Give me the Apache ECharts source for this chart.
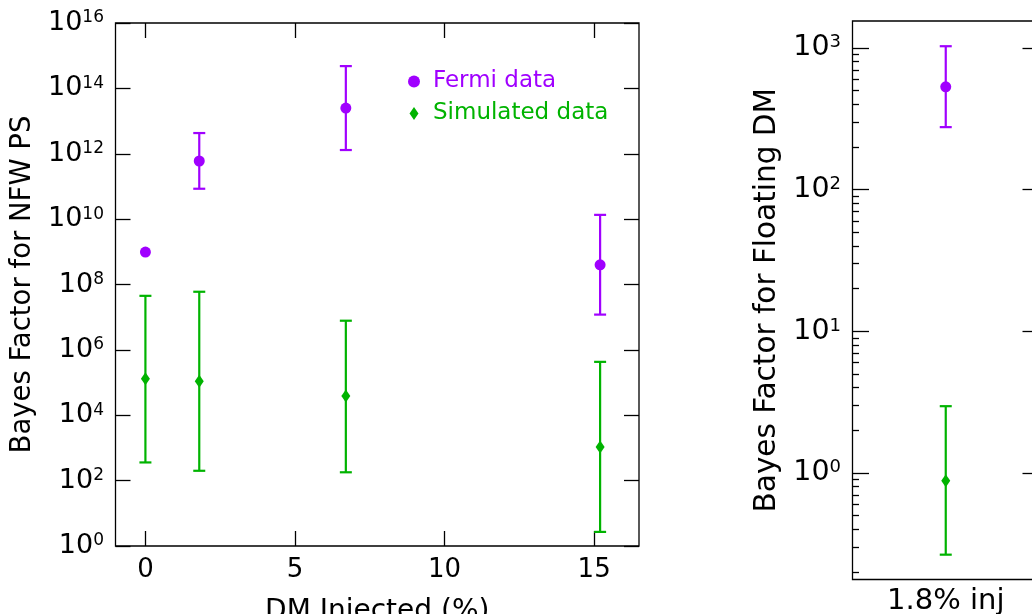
<!DOCTYPE html>
<html>
<head>
<meta charset="utf-8">
<script src="https://cdn.jsdelivr.net/npm/echarts@6/dist/echarts.min.js"></script>
<style>
  html, body { margin: 0; padding: 0; background: #fff; }
  #chart { width: 1032px; height: 614px; }
</style>
</head>
<body>
<div id="chart"></div>
<script>
// DM injection levels (%) used for the NFW PS comparison
const injected = [0, 1.8, 6.7, 15.2];

// Bayes factor for NFW PS: central values with lower / upper ends of the bars
const fermiBF   = [9.8e8, 6.0e11, 2.5e13, 4.0e8];
const fermiLow  = [null, 8.5e10, 1.3e12, 1.2e7];
const fermiHigh = [null, 4.3e12, 4.8e14, 1.35e10];

const simBF   = [1.3e5, 1.1e5, 3.9e4, 1.07e3];
const simLow  = [3.6e2, 2.0e2, 1.8e2, 2.7];
const simHigh = [4.5e7, 6.0e7, 7.8e6, 4.3e5];

// Bayes factor for floating DM at a single injection level
const floatCategories = ['1.8% inj'];
const floatFermiBF   = [531];
const floatFermiLow  = [276];
const floatFermiHigh = [1028];
const floatSimBF   = [0.88];
const floatSimLow  = [0.265];
const floatSimHigh = [2.96];

// tick positions (decade exponents for the log axes)
const xTickValues = [0, 5, 10, 15];
const rightDecades = [0, 1, 2, 3];

const PURPLE = '#a000ff';
const GREEN = '#00b300';
const FONT = 'DejaVu Sans';
const INK = '#000';

// right panel log range, as decade exponents
const R_MIN = -0.752, R_MAX = 3.19;

// minor ticks at 2..9 times each decade
const rightMinor = [];
for (let k = -1; k <= 3; k++) {
  for (let m = 2; m <= 9; m++) {
    const e = k + Math.log10(m);
    if (e > R_MIN && e < R_MAX) rightMinor.push(e);
  }
}

const powLabel = v => '{b|10}{s|' + Math.round(v) + '}';
const powRich = size => ({
  b: { fontSize: size, fontFamily: FONT, color: INK, lineHeight: size },
  s: { fontSize: Math.round(size * 0.64), fontFamily: FONT, color: INK, verticalAlign: 'top', lineHeight: 10 }
});

// vertical bar with end caps from the lower to the upper value
function errorBarItem(params, api) {
  const lo = api.value(2), hi = api.value(3);
  if (!(lo > 0) || !(hi > 0)) return null;
  const x = api.value(0);
  const pLo = api.coord([x, lo]);
  const pHi = api.coord([x, hi]);
  const half = 6;
  const style = { stroke: api.visual('color'), lineWidth: 2.2, fill: null };
  return {
    type: 'group',
    children: [
      { type: 'line', shape: { x1: pLo[0], y1: pLo[1], x2: pHi[0], y2: pHi[1] }, style },
      { type: 'line', shape: { x1: pLo[0] - half, y1: pLo[1], x2: pLo[0] + half, y2: pLo[1] }, style },
      { type: 'line', shape: { x1: pHi[0] - half, y1: pHi[1], x2: pHi[0] + half, y2: pHi[1] }, style }
    ]
  };
}

const zip = (xs, ys, los, his) =>
  xs.map((x, i) => [x, ys[i], los[i], his[i]]).filter(d => d[2] != null && d[3] != null);
const pts = (xs, ys) => xs.map((x, i) => [x, ys[i]]);

const tickLine = () => ({ color: INK, width: 1.3 });
const noLine = () => ({ show: false, onZero: false });
const hiddenAxisBits = () => ({
  axisLine: noLine(), axisTick: { show: false },
  axisLabel: { show: false }, splitLine: { show: false }
});

const option = {
  animation: false,
  backgroundColor: '#fff',
  grid: [
    { left: 115.5, top: 23, width: 523.5, height: 523, show: true,
      borderColor: INK, borderWidth: 1.3, backgroundColor: 'transparent',
      containLabel: false, outerBoundsMode: 'none' },
    { left: 852.5, top: 21, width: 186.5, height: 558.5, show: true,
      borderColor: INK, borderWidth: 1.3, backgroundColor: 'transparent',
      containLabel: false, outerBoundsMode: 'none' }
  ],
  legend: [
    { data: ['Fermi data'], left: 408, top: 70, padding: 0, orient: 'vertical',
      icon: 'circle', itemWidth: 12, itemHeight: 12,
      textStyle: { color: PURPLE, fontSize: 23, fontFamily: FONT, padding: [0, 0, 0, 8] } },
    { data: ['Simulated data'], left: 409.5, top: 102, padding: 0, orient: 'vertical',
      icon: 'diamond', itemWidth: 9, itemHeight: 13, symbolKeepAspect: false,
      textStyle: { color: GREEN, fontSize: 23, fontFamily: FONT, padding: [0, 0, 0, 9.5] } }
  ],
  xAxis: [
    { // bottom axis of the left panel
      gridIndex: 0, type: 'value', min: -1, max: 16.5, position: 'bottom',
      name: 'DM Injected (%)', nameLocation: 'middle', nameGap: 52,
      nameTextStyle: { fontSize: 28, fontFamily: FONT, color: INK },
      axisLine: noLine(),
      axisTick: { show: true, inside: true, length: 15, lineStyle: tickLine(), customValues: xTickValues },
      axisLabel: { show: true, margin: 11, fontSize: 26, fontFamily: FONT, color: INK, customValues: xTickValues },
      splitLine: { show: false }
    },
    { // top axis of the left panel, ticks only
      gridIndex: 0, type: 'value', min: -1, max: 16.5, position: 'top',
      axisLine: noLine(),
      axisTick: { show: true, inside: true, length: 15, lineStyle: tickLine(), customValues: xTickValues },
      axisLabel: { show: false }, splitLine: { show: false }
    },
    { // category axis of the right panel
      gridIndex: 1, type: 'category', data: floatCategories, position: 'bottom',
      axisLine: noLine(), axisTick: { show: false },
      axisLabel: { show: true, margin: 7, fontSize: 29, fontFamily: FONT, color: INK },
      splitLine: { show: false }
    }
  ],
  yAxis: [
    // 0: log scale carrying the left-panel data
    Object.assign({ gridIndex: 0, type: 'log', logBase: 10, min: 1, max: 1e16 }, hiddenAxisBits()),
    // 1: decade ticks and labels, left side
    { gridIndex: 0, type: 'value', min: 0, max: 16, interval: 2, position: 'left',
      name: 'Bayes Factor for NFW PS', nameLocation: 'middle', nameGap: 77,
      nameTextStyle: { fontSize: 27.5, fontFamily: FONT, color: INK },
      axisLine: noLine(),
      axisTick: { show: true, inside: true, length: 15, lineStyle: tickLine() },
      axisLabel: { show: true, margin: 11.5, formatter: powLabel, rich: powRich(27) },
      splitLine: { show: false } },
    // 2: decade ticks, right side
    { gridIndex: 0, type: 'value', min: 0, max: 16, interval: 2, position: 'right',
      axisLine: noLine(),
      axisTick: { show: true, inside: true, length: 15, lineStyle: tickLine() },
      axisLabel: { show: false }, splitLine: { show: false } },
    // 3: log scale carrying the right-panel data
    Object.assign({ gridIndex: 1, type: 'log', logBase: 10,
      min: Math.pow(10, R_MIN), max: Math.pow(10, R_MAX) }, hiddenAxisBits()),
    // 4: major decade ticks and labels, left side
    { gridIndex: 1, type: 'value', min: R_MIN, max: R_MAX, position: 'left',
      name: 'Bayes Factor for Floating DM', nameLocation: 'middle', nameGap: 70,
      nameTextStyle: { fontSize: 29.5, fontFamily: FONT, color: INK },
      axisLine: noLine(),
      axisTick: { show: true, inside: true, length: 16.5, lineStyle: tickLine(), customValues: rightDecades },
      axisLabel: { show: true, margin: 11.5, formatter: powLabel, rich: powRich(28.5), customValues: rightDecades },
      splitLine: { show: false } },
    // 5: minor ticks, left side
    { gridIndex: 1, type: 'value', min: R_MIN, max: R_MAX, position: 'left',
      axisLine: noLine(),
      axisTick: { show: true, inside: true, length: 6.5, lineStyle: tickLine(), customValues: rightMinor },
      axisLabel: { show: false }, splitLine: { show: false } },
    // 6: major ticks, right side
    { gridIndex: 1, type: 'value', min: R_MIN, max: R_MAX, position: 'right',
      axisLine: noLine(),
      axisTick: { show: true, inside: true, length: 16.5, lineStyle: tickLine(), customValues: rightDecades },
      axisLabel: { show: false }, splitLine: { show: false } },
    // 7: minor ticks, right side
    { gridIndex: 1, type: 'value', min: R_MIN, max: R_MAX, position: 'right',
      axisLine: noLine(),
      axisTick: { show: true, inside: true, length: 6.5, lineStyle: tickLine(), customValues: rightMinor },
      axisLabel: { show: false }, splitLine: { show: false } }
  ],
  series: [
    // left panel
    { name: 'Fermi data', type: 'custom', xAxisIndex: 0, yAxisIndex: 0, z: 2,
      itemStyle: { color: PURPLE }, renderItem: errorBarItem, encode: { x: 0, y: 1 },
      data: zip(injected, fermiBF, fermiLow, fermiHigh) },
    { name: 'Simulated data', type: 'custom', xAxisIndex: 0, yAxisIndex: 0, z: 2,
      itemStyle: { color: GREEN }, renderItem: errorBarItem, encode: { x: 0, y: 1 },
      data: zip(injected, simBF, simLow, simHigh) },
    { name: 'Fermi data', type: 'scatter', xAxisIndex: 0, yAxisIndex: 0, z: 3,
      symbol: 'circle', symbolSize: 11, itemStyle: { color: PURPLE, opacity: 1 },
      data: pts(injected, fermiBF) },
    { name: 'Simulated data', type: 'scatter', xAxisIndex: 0, yAxisIndex: 0, z: 3,
      symbol: 'diamond', symbolSize: [9, 13], itemStyle: { color: GREEN, opacity: 1 },
      data: pts(injected, simBF) },
    // right panel
    { name: 'Fermi data', type: 'custom', xAxisIndex: 2, yAxisIndex: 3, z: 2,
      itemStyle: { color: PURPLE }, renderItem: errorBarItem, encode: { x: 0, y: 1 },
      data: zip(floatCategories, floatFermiBF, floatFermiLow, floatFermiHigh) },
    { name: 'Simulated data', type: 'custom', xAxisIndex: 2, yAxisIndex: 3, z: 2,
      itemStyle: { color: GREEN }, renderItem: errorBarItem, encode: { x: 0, y: 1 },
      data: zip(floatCategories, floatSimBF, floatSimLow, floatSimHigh) },
    { name: 'Fermi data', type: 'scatter', xAxisIndex: 2, yAxisIndex: 3, z: 3,
      symbol: 'circle', symbolSize: 11, itemStyle: { color: PURPLE, opacity: 1 },
      data: pts(floatCategories, floatFermiBF) },
    { name: 'Simulated data', type: 'scatter', xAxisIndex: 2, yAxisIndex: 3, z: 3,
      symbol: 'diamond', symbolSize: [9, 13], itemStyle: { color: GREEN, opacity: 1 },
      data: pts(floatCategories, floatSimBF) }
  ]
};

const chart = echarts.init(document.getElementById('chart'), null, { renderer: 'canvas' });
chart.setOption(option);
</script>
</body>
</html>
